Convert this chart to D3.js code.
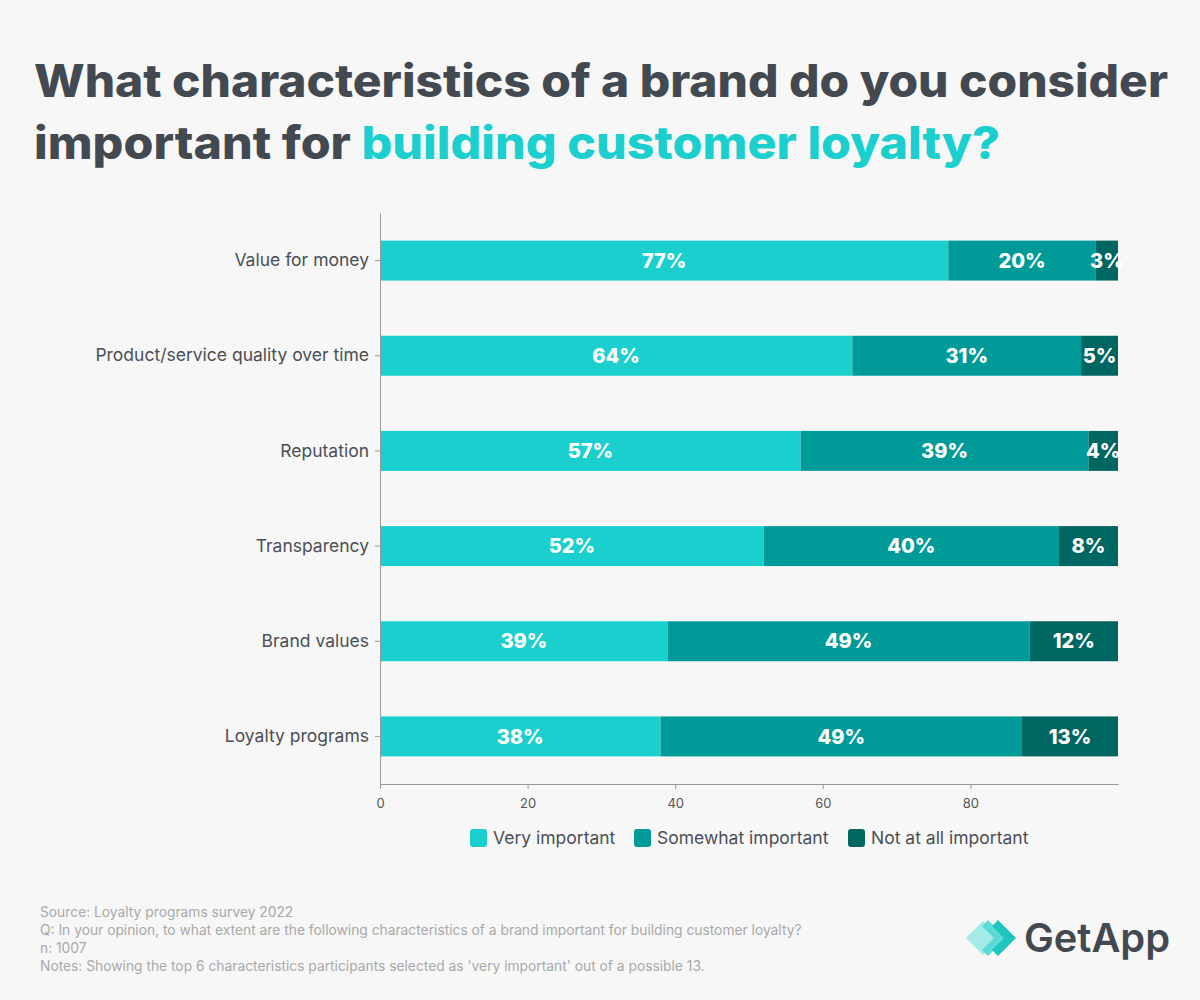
<!DOCTYPE html>
<html>
<head>
<meta charset="utf-8">
<script src="https://cdn.jsdelivr.net/npm/d3@7"></script>
<style>
    body { margin: 0; background: #f7f7f7; }
    svg { display: block; }
</style>
</head>
<body>
<script>
// Chart data
var categories = ["Value for money", "Product/service quality over time",
    "Reputation", "Transparency", "Brand values", "Loyalty programs"];
var seriesNames = ["Very important", "Somewhat important",
    "Not at all important"];
var veryImportant = [77, 64, 57, 52, 39, 38];
var somewhatImportant = [20, 31, 39, 40, 49, 49];
var notImportant = [3, 5, 4, 8, 12, 13];
var xTicks = [0, 20, 40, 60, 80];
var footnotes = [
    "Source: Loyalty programs survey 2022",
    "Q: In your opinion, to what extent are the following characteristics " +
        "of a brand important for building customer loyalty?",
    "n: 1007",
    "Notes: Showing the top 6 characteristics participants selected as " +
        "'very important' out of a possible 13."
];

var colors = ["#1ccfcf", "#009b99", "#006662"];
var dark = "#434950";
var font = "Inter, 'DejaVu Sans', sans-serif";

var W = 1200, H = 1000;
var margin = {top: 213, right: 82, bottom: 216, left: 380},
    width = W - margin.left - margin.right,
    height = H - margin.top - margin.bottom;

var svg = d3.select("body").append("svg")
    .attr("width", W)
    .attr("height", H);

svg.append("rect").attr("width", W).attr("height", H).attr("fill", "#f7f7f7");

// Title, two lines, second partly highlighted
var title = svg.append("g")
    .attr("font-family", font)
    .attr("font-weight", 800)
    .attr("font-size", 45);
title.append("text")
    .attr("x", 34).attr("y", 97)
    .attr("fill", dark)
    .attr("textLength", 1134)
    .attr("lengthAdjust", "spacingAndGlyphs")
    .text("What characteristics of a brand do you consider");
var t2 = title.append("text")
    .attr("x", 34).attr("y", 159)
    .attr("textLength", 966)
    .attr("lengthAdjust", "spacingAndGlyphs");
t2.append("tspan").attr("fill", dark).text("important for ");
t2.append("tspan").attr("fill", "#1ccfcf").text("building customer loyalty?");

var g = svg.append("g")
    .attr("transform", "translate(" + margin.left + "," + margin.top + ")");

var xScale = d3.scaleLinear().domain([0, 100]).range([0, width]);
var yScale = d3.scaleBand().domain(categories).range([0, height])
    .paddingInner(0.58).paddingOuter(0.29);

// build stacked rows from the series arrays
var rows = categories.map(function(c, i) {
    return {cat: c, s0: veryImportant[i], s1: somewhatImportant[i],
            s2: notImportant[i]};
});
var stack = d3.stack().keys(["s0", "s1", "s2"])(rows);

var layers = g.selectAll(".layer")
    .data(stack)
    .enter().append("g")
    .attr("class", "layer")
    .attr("fill", function(d, i) { return colors[i]; });

layers.selectAll("rect")
    .data(function(d) { return d; })
    .enter().append("rect")
    .attr("x", function(d) { return xScale(d[0]); })
    .attr("y", function(d) { return yScale(d.data.cat); })
    .attr("width", function(d) { return xScale(d[1]) - xScale(d[0]); })
    .attr("height", yScale.bandwidth());

layers.selectAll("text")
    .data(function(d) { return d; })
    .enter().append("text")
    .attr("x", function(d) { return (xScale(d[0]) + xScale(d[1])) / 2; })
    .attr("y", function(d) {
        return yScale(d.data.cat) + yScale.bandwidth() / 2;
    })
    .attr("dy", "0.36em")
    .attr("text-anchor", "middle")
    .attr("fill", "#ffffff")
    .attr("font-family", font)
    .attr("font-weight", 800)
    .attr("font-size", 20)
    .text(function(d) { return (d[1] - d[0]) + "%"; });

// Axes
var xAxis = d3.axisBottom(xScale).tickValues(xTicks).tickSize(5)
    .tickSizeOuter(0);
var yAxis = d3.axisLeft(yScale).tickSize(5).tickSizeOuter(0).tickPadding(6);

var gx = g.append("g")
    .attr("transform", "translate(0," + height + ")")
    .call(xAxis);
gx.selectAll("text")
    .attr("font-family", font)
    .attr("font-size", 13)
    .attr("fill", "#555")
    .attr("dy", "1.2em");

var gy = g.append("g").call(yAxis);
gy.selectAll("text")
    .attr("font-family", font)
    .attr("font-size", 17.5)
    .attr("fill", "#4a4f55");

g.selectAll(".domain, .tick line").attr("stroke", "#999");

// Legend
var legendX = [470, 634, 848];
var legend = svg.append("g")
    .attr("font-family", font)
    .attr("font-size", 17.5);
var items = legend.selectAll("g")
    .data(seriesNames)
    .enter().append("g")
    .attr("transform", function(d, i) {
        return "translate(" + legendX[i] + ",829)";
    });
items.append("rect")
    .attr("width", 17).attr("height", 18).attr("rx", 3)
    .attr("fill", function(d, i) { return colors[i]; });
items.append("text")
    .attr("x", 23).attr("y", 9).attr("dy", "0.35em")
    .attr("fill", "#4a4f55")
    .text(function(d) { return d; });

// Footnotes
svg.append("g")
    .attr("font-family", font)
    .attr("font-size", 13.8)
    .attr("fill", "#a9a9a9")
    .selectAll("text")
    .data(footnotes)
    .enter().append("text")
    .attr("x", 40)
    .attr("y", function(d, i) { return 917 + i * 18; })
    .text(function(d) { return d; });

// GetApp logo
var logo = svg.append("g").attr("transform", "translate(966,938)");
function chevron(x, fill, op) {
    logo.append("path")
        .attr("d", "M" + x + ",-18 L" + (x + 18) + ",0 L" + x + ",18 L" +
              (x - 6) + ",12 L" + (x + 6) + ",0 L" + (x - 6) + ",-12 Z")
        .attr("fill", fill).attr("opacity", op);
}
logo.append("path")
    .attr("d", "M0,0 L17,-17 L34,0 L17,17 Z")
    .attr("fill", "#8ee6e3").attr("opacity", 0.8);
chevron(22, "#4fd8d3", 0.9);
chevron(32, "#1ec6bf", 1);
logo.append("text")
    .attr("x", 58).attr("y", 14)
    .attr("font-family", font)
    .attr("font-weight", 600)
    .attr("font-size", 40)
    .attr("fill", dark)
    .attr("textLength", 146)
    .attr("lengthAdjust", "spacingAndGlyphs")
    .text("GetApp");
</script>
</body>
</html>
